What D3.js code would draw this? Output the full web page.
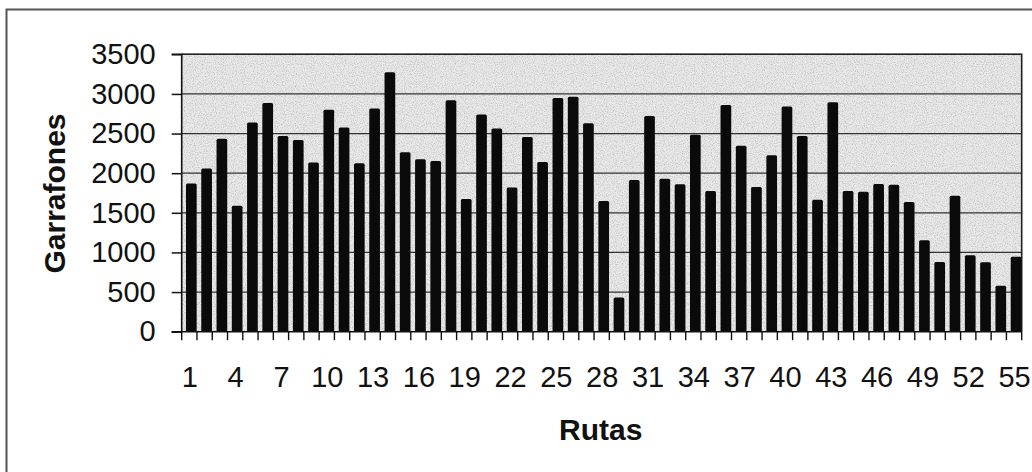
<!DOCTYPE html>
<html>
<head>
<meta charset="utf-8">
<script src="https://cdn.jsdelivr.net/npm/d3@7"></script>
<style>
  html, body { margin: 0; padding: 0; background: #fff; }
  svg { display: block; font-family: "Liberation Sans", Arial, sans-serif; }
</style>
</head>
<body>
<svg id="chart" width="1032" height="472"></svg>
<script>
const rutas = d3.range(1, 56).map(String);
const garrafones = [1870,2060,2435,1590,2640,2885,2470,2420,2135,2800,
                    2575,2125,2815,3275,2265,2175,2155,2920,1675,2740,
                    2565,1820,2455,2140,2950,2965,2630,1650,430,1915,
                    2720,1930,1860,2485,1775,2860,2345,1825,2225,2840,
                    2470,1665,2895,1775,1765,1865,1855,1635,1155,880,
                    1715,965,875,580,945];
const yTicks = [0,500,1000,1500,2000,2500,3000,3500];
const xTickLabels = rutas.filter((d, i) => i % 3 === 0);
const xTitle = "Rutas";
const yTitle = "Garrafones";

const svg = d3.select("#chart");
const W = 1032, H = 472;
const plot = {left: 181.7, right: 1021.7, top: 54.3, bottom: 331.7};

// noise filter for the speckled plot background
const defs = svg.append("defs");
const f = defs.append("filter").attr("id", "speckle").attr("x", 0).attr("y", 0).attr("width", 1).attr("height", 1);
f.append("feTurbulence").attr("type", "fractalNoise").attr("baseFrequency", 0.9).attr("numOctaves", 2).attr("seed", 3).attr("result", "noise");
f.append("feColorMatrix").attr("in", "noise").attr("type", "matrix")
  .attr("values", "0 0 0 0 0  0 0 0 0 0  0 0 0 0 0  0 0 0 -2.2 1.25")
  .attr("result", "dots");
f.append("feComposite").attr("in", "dots").attr("in2", "SourceGraphic").attr("operator", "in");

// outer border
svg.append("rect").attr("x", 6.5).attr("y", 9.5).attr("width", W + 10).attr("height", H + 10)
  .attr("fill", "#fff").attr("stroke", "#555").attr("stroke-width", 2);

const x = d3.scaleBand().domain(rutas).range([plot.left, plot.right]).paddingInner(0.3).paddingOuter(0.15);
const y = d3.scaleLinear().domain([0, 3500]).range([plot.bottom, plot.top]);

// plot background
svg.append("rect").attr("x", plot.left).attr("y", plot.top)
  .attr("width", plot.right - plot.left).attr("height", plot.bottom - plot.top)
  .attr("fill", "#e9e9e9");
svg.append("rect").attr("x", plot.left).attr("y", plot.top)
  .attr("width", plot.right - plot.left).attr("height", plot.bottom - plot.top)
  .attr("fill", "#a0a0a0").attr("opacity", 0.18).attr("filter", "url(#speckle)");

// gridlines
svg.append("g").selectAll("line").data(yTicks.filter(d => d > 0)).join("line")
  .attr("x1", plot.left).attr("x2", plot.right)
  .attr("y1", d => y(d)).attr("y2", d => y(d))
  .attr("stroke", "#333").attr("stroke-width", 1.3);

// plot border (top/right)
svg.append("path")
  .attr("d", `M${plot.left},${plot.top}H${plot.right}V${plot.bottom}`)
  .attr("fill", "none").attr("stroke", "#222").attr("stroke-width", 1.6);

// bars
svg.append("g").attr("transform", "translate(2,0)")
  .selectAll("rect").data(garrafones).join("rect")
  .attr("x", (d, i) => x(rutas[i]))
  .attr("width", x.bandwidth())
  .attr("y", d => y(d))
  .attr("height", d => y(0) - y(d))
  .attr("rx", 1.5)
  .attr("fill", "#0a0a0a");

// y axis
const yAxis = d3.axisLeft(y).tickValues(yTicks).tickSize(10).tickPadding(16).tickFormat(d3.format("d"));
const gy = svg.append("g").attr("transform", `translate(${plot.left},0)`).call(yAxis);
gy.select(".domain").attr("stroke", "#111").attr("stroke-width", 1.6).attr("d", `M-10,${plot.bottom}H0V${plot.top}H-10`);
gy.selectAll(".tick line").attr("stroke", "#111").attr("stroke-width", 1.5);
gy.selectAll(".tick text").attr("font-size", 29).attr("fill", "#111")
  .attr("font-family", "'Liberation Sans', Arial, sans-serif");

// x axis
const gx = svg.append("g").attr("transform", `translate(0,${plot.bottom})`);
gx.append("line").attr("x1", plot.left - 10).attr("x2", plot.right).attr("y1", 0).attr("y2", 0)
  .attr("stroke", "#111").attr("stroke-width", 1.6);
const step = x.step();
const boundaries = rutas.map(r => x(r) - x.paddingInner() * step / 2).concat([plot.right]);
gx.selectAll("line.tk").data(boundaries).join("line").attr("class", "tk")
  .attr("x1", d => d).attr("x2", d => d).attr("y1", 0).attr("y2", 8.5)
  .attr("stroke", "#111").attr("stroke-width", 1.4);
gx.selectAll("text").data(xTickLabels).join("text")
  .attr("x", d => x(d) + x.bandwidth() / 2 + 0.5)
  .attr("y", 55.5)
  .attr("text-anchor", "middle")
  .attr("font-size", 29).attr("fill", "#111")
  .text(d => d);

// titles
svg.append("text").attr("x", (plot.left + plot.right) / 2 - 1).attr("y", 440)
  .attr("text-anchor", "middle").attr("font-size", 30).attr("font-weight", "bold").attr("fill", "#111")
  .text(xTitle);
svg.append("text").attr("transform", "translate(64.5,193.5) rotate(-90)")
  .attr("text-anchor", "middle").attr("font-size", 30).attr("font-weight", "bold").attr("fill", "#111")
  .text(yTitle);
</script>
</body>
</html>
